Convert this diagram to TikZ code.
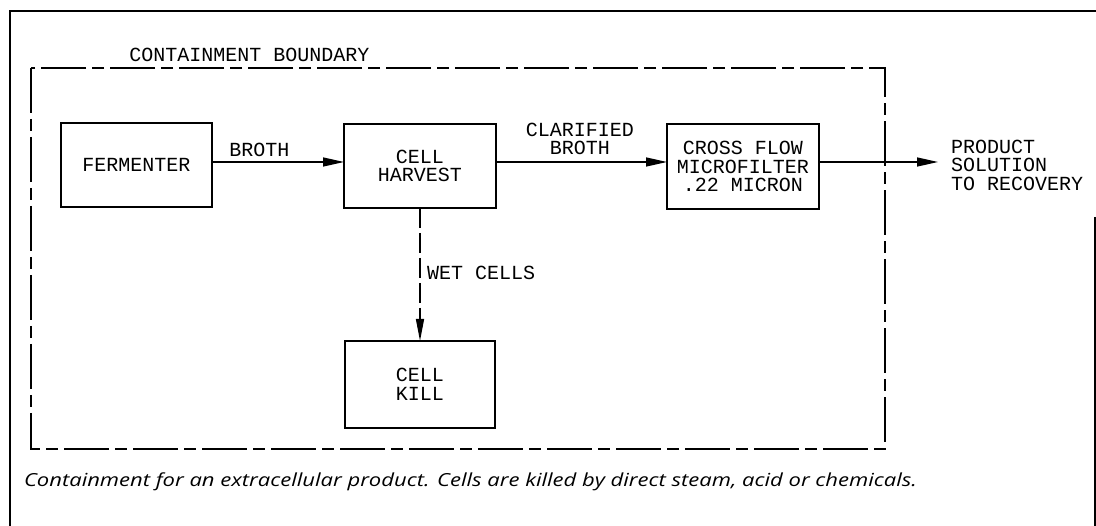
\documentclass[tikz,border=0pt]{standalone}
\usepackage{fontspec}
\usepackage{graphicx}
\usetikzlibrary{arrows.meta}
\newfontfamily\plotfont{Liberation Mono}
\newfontfamily\capfont{Open Sans}
\begin{document}
\begin{tikzpicture}[x=1pt,y=-1pt,
  every node/.style={inner sep=0pt,outer sep=0pt},
  lbl/.style={font=\plotfont\fontsize{20}{18.5}\selectfont,align=center},
  procbox/.style={draw,line width=1.5pt,lbl},
  flow/.style={line width=1.4pt,-{Triangle[length=21pt,width=9pt]}},
  bound/.style={line width=1.5pt,dash pattern=on 45pt off 6pt on 12pt off 6pt},
  wet/.style={line width=1.4pt,dash pattern=on 20pt off 5pt,-{Triangle[length=22pt,width=8pt]}}
]
\useasboundingbox (0,0) rectangle (1096,526);
% outer frame
\draw[line width=2pt] (10,530) -- (10,11) -- (1096,11);
\draw[line width=2pt] (1095,217) -- (1095,530);
% containment boundary
\draw[bound] (31,68) rectangle (885,449);
\node[lbl] (cbl) at (249.5,55) {CONTAINMENT BOUNDARY};
% process boxes
\node[procbox,minimum width=151pt,minimum height=84pt] (ferm) at (136.5,165) {FERMENTER};
\node[procbox,minimum width=152pt,minimum height=84pt] (harv) at (420,166) {CELL\\HARVEST};
\node[procbox,minimum width=152pt,minimum height=85pt] (cf) at (743,166.5) {CROSS FLOW\\MICROFILTER\\.22 MICRON};
\node[procbox,minimum width=150pt,minimum height=87pt] (kill) at (420,384.5) {CELL\\KILL};
\coordinate (out) at (938,162);
% connectors
\draw[flow] ([yshift=3pt]ferm.east) -- ([yshift=4pt]harv.west);
\draw[flow] ([yshift=4pt]harv.east) -- ([yshift=4.5pt]cf.west);
\draw[flow] ([yshift=4.5pt]cf.east) -- (out);
\draw[wet] (harv.south) -- (kill.north);
% labels
\node[lbl] (broth) at (259.5,150) {BROTH};
\node[lbl] (clar) at (580,139) {CLARIFIED\\BROTH};
\node[lbl,anchor=west] (wetl) at (427,273) {WET CELLS};
\node[lbl,align=left,anchor=west] (prod) at (951,165) {PRODUCT\\SOLUTION\\TO RECOVERY};
% caption
\node[anchor=base west,font=\capfont\itshape\fontsize{18}{20}\selectfont] (cap) at (24,487)
  {\resizebox{893pt}{\height}{Containment for an extracellular product. Cells are killed by direct steam, acid or chemicals.}};
\end{tikzpicture}
\end{document}
